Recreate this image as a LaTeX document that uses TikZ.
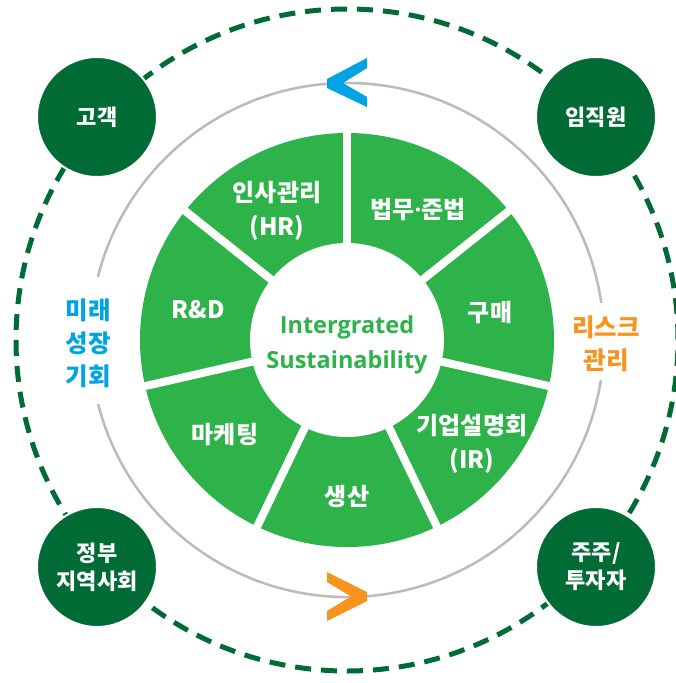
\documentclass[tikz,border=0pt]{standalone}
\usepackage{fontspec}
\newfontfamily\kr{Noto Sans CJK KR}
\newfontfamily\lat{Open Sans}
\definecolor{segG}{HTML}{2DB34A}
\definecolor{darkG}{HTML}{006B35}
\definecolor{skyB}{HTML}{00A3E4}
\definecolor{orng}{HTML}{F7941D}
\definecolor{ringGray}{HTML}{BBBBBB}
\tikzset{
  darkcirc/.style={circle, fill=darkG, draw=white, line width=2pt, minimum size=120pt, inner sep=0pt,
    text=white, align=center, font=\kr\bfseries\fontsize{22}{28}\selectfont},
  seglbl/.style={text=white, align=center, inner sep=0pt, font=\kr\bfseries\fontsize{24}{34}\selectfont},
  corelbl/.style={text=segG, align=center, inner sep=0pt, font=\lat\bfseries\fontsize{23.5}{35}\selectfont},
  sidelbl/.style={align=center, inner sep=0pt, font=\kr\bfseries\fontsize{24.5}{33}\selectfont},
  grayring/.style={ringGray, line width=2.5pt},
}
\begin{document}
\begin{tikzpicture}[x=1pt,y=-1pt]
\useasboundingbox (0,0) rectangle (676,683);
\fill[white] (0,0) rectangle (676,683);

\begin{scope}[shift={(347,340)}, yscale=-1]
  \draw[darkG, line width=5pt, dash pattern=on 16pt off 10pt] (0,0) circle[radius=331];
  \draw[grayring] (8.3:257) arc[start angle=8.3, end angle=165.8, radius=257];
  \draw[grayring] (194.4:257) arc[start angle=194.4, end angle=351, radius=257];
  \fill[segG] (0,0) circle[radius=207];
  \foreach \a in {0,...,6} \draw[white, line width=8pt] (0,0) -- ({90+\a*360/7}:212);
  \fill[white] (0,0) circle[radius=97];
\end{scope}

% chevrons
\fill[skyB] (367,58) -- (327,79) -- (327,88) -- (367,107) -- (367,97) -- (343,83) -- (367,68) -- cycle;
\fill[orng] (327,572) -- (367,592) -- (367,601) -- (327,621) -- (327,611) -- (351,596.5) -- (327,582) -- cycle;

% stakeholder circles
\node[darkcirc] (guest) at (97,117) {고객};
\node[darkcirc] (staff) at (596,117) {임직원};
\node[darkcirc] (gov) at (97,567) {정부\\지역사회};
\node[darkcirc] (share) at (596,567) {주주/\\투자자};

% segment labels
\node[seglbl] (hr) at (277,211) {인사관리\\(HR)};
\node[seglbl] (law) at (418,210) {법무{\lat·}준법};
\node[seglbl] (buy) at (490,313) {구매};
\node[seglbl] (rd) at (198,310) {R\&D};
\node[seglbl] (mkt) at (225,435) {마케팅};
\node[seglbl] (prod) at (347,497) {생산};
\node[seglbl] (ir) at (472,444) {기업설명회\\(IR)};

% center
\node[corelbl] (core) at (347,345) {Intergrated\\Sustainability};

% side labels
\node[sidelbl, text=skyB] (growth) at (88,343) {미래\\성장\\기회};
\node[sidelbl, text=orng] (risk) at (606,344) {리스크\\관리};
\end{tikzpicture}
\end{document}
